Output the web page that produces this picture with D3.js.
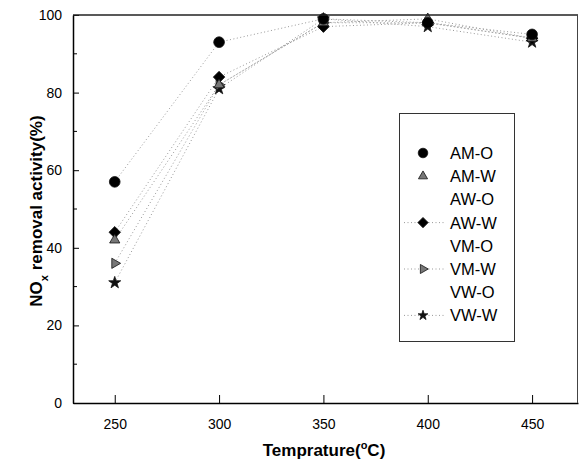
<!DOCTYPE html>
<html>
<head>
<meta charset="utf-8">
<script src="https://cdn.jsdelivr.net/npm/d3@7"></script>
<style>
  body { margin: 0; background: #fff; }
  text { font-family: "Liberation Sans", Arial, sans-serif; }
</style>
</head>
<body>
<div id="chart"></div>
<script>
// data
const temps = [250, 300, 350, 400, 450];
const amO = [57, 93, 99, 98, 95];
const amW = [42, 82, 98, 99, 94];
const awW = [44, 84, 97, 98, 94];
const vmW = [36, 82, 98, 98, 94];
const vwW = [31, 81, 99, 97, 93];
const xTicks = [250, 300, 350, 400, 450];
const yTicks = [0, 20, 40, 60, 80, 100];
const legendNames = ["AM-O", "AM-W", "AW-O", "AW-W", "VM-O", "VM-W", "VW-O", "VW-W"];

const width = 579, height = 466;

const svg = d3.select('#chart')
  .append('svg')
  .attr('width', width)
  .attr('height', height);

const x = d3.scaleLinear().domain([230, 472]).range([73, 578]);
const y = d3.scaleLinear().domain([0, 100]).range([403, 15]);

// series: marker type, fill
const series = [
  { name: "AM-O", values: amO, sym: d3.symbolCircle, size: 90, fill: "#000", rot: 0, legendLine: false },
  { name: "AM-W", values: amW, sym: d3.symbolTriangle, size: 45, fill: "#777", rot: 0, legendLine: false },
  { name: "AW-W", values: awW, sym: d3.symbolSquare, size: 66, fill: "#000", rot: 45, legendLine: true },
  { name: "VM-W", values: vmW, sym: d3.symbolTriangle, size: 45, fill: "#777", rot: 90, legendLine: true },
  { name: "VW-W", values: vwW, sym: d3.symbolStar, size: 45, fill: "#111", rot: 0, legendLine: true }
];

// dotted connecting lines
const line = d3.line()
  .x((d, i) => x(temps[i]))
  .y(d => y(d));

svg.append("g")
  .selectAll("path")
  .data(series)
  .join("path")
    .attr("d", d => line(d.values))
    .attr("fill", "none")
    .attr("stroke", "#999")
    .attr("stroke-width", 1)
    .attr("stroke-dasharray", "1,2.5");

// markers (draw from back to front)
series.slice().reverse().forEach(s => {
  svg.append("g")
    .selectAll("path")
    .data(s.values)
    .join("path")
      .attr("d", d3.symbol().type(s.sym).size(s.size))
      .attr("transform", (d, i) => `translate(${x(temps[i])},${y(d)}) rotate(${s.rot})`)
      .attr("fill", s.fill)
      .attr("stroke", "#111")
      .attr("stroke-width", 0.8);
});

// axes
const xAxis = d3.axisBottom(x).tickValues(xTicks).tickSizeInner(-8).tickSizeOuter(0).tickPadding(16);
const gx = svg.append("g")
  .attr("transform", `translate(0,${y(0)})`)
  .call(xAxis);
gx.select(".domain").attr("stroke", "#000").attr("stroke-width", 1.5);
gx.selectAll(".tick line").attr("stroke", "#000");
gx.selectAll(".tick text").attr("font-size", 14).attr("fill", "#000");

const yAxis = d3.axisLeft(y).tickValues(yTicks).tickSizeInner(-6).tickSizeOuter(0).tickPadding(11);
const gy = svg.append("g")
  .attr("transform", `translate(${x(230)},0)`)
  .call(yAxis);
gy.select(".domain").attr("stroke", "#000").attr("stroke-width", 1.5);
gy.selectAll(".tick line").attr("stroke", "#000");
gy.selectAll(".tick text").attr("font-size", 14).attr("fill", "#000");

// minor y ticks
svg.append("g")
  .selectAll("line")
  .data(d3.range(10, 100, 20))
  .join("line")
    .attr("x1", x(230)).attr("x2", x(230) + 4)
    .attr("y1", d => y(d)).attr("y2", d => y(d))
    .attr("stroke", "#000");

// top and right frame
svg.append("line")
  .attr("x1", x(230)).attr("x2", x(472))
  .attr("y1", y(100)).attr("y2", y(100))
  .attr("stroke", "#222").attr("stroke-width", 1.5);
svg.append("line")
  .attr("x1", x(472) - 0.5).attr("x2", x(472) - 0.5)
  .attr("y1", y(100)).attr("y2", y(0))
  .attr("stroke", "#444").attr("stroke-width", 1);

// axis titles
const xt = svg.append("text")
  .attr("x", 324).attr("y", 456)
  .attr("text-anchor", "middle")
  .attr("font-size", 17).attr("font-weight", "bold");
xt.append("tspan").text("Temprature(");
xt.append("tspan").attr("font-size", 11).attr("dy", -7).text("o");
xt.append("tspan").attr("dy", 7).text("C)");

const yt = svg.append("text")
  .attr("transform", `translate(42,${(y(0) + y(100)) / 2 + 2}) rotate(-90)`)
  .attr("text-anchor", "middle")
  .attr("font-size", 17).attr("font-weight", "bold");
yt.append("tspan").text("NO");
yt.append("tspan").attr("font-size", 11).attr("dy", 6).text("x");
yt.append("tspan").attr("dy", -6).text(" removal activity(%)");

// legend
const leg = svg.append("g");
leg.append("rect")
  .attr("x", 399.5).attr("y", 113.5)
  .attr("width", 115).attr("height", 228)
  .attr("fill", "#fff").attr("stroke", "#333").attr("stroke-width", 1);

legendNames.forEach((name, i) => {
  const ly = 153 + i * 23.2;
  const s = series.find(d => d.name === name);
  if (s) {
    if (s.legendLine) {
      leg.append("line")
        .attr("x1", 404).attr("x2", 444)
        .attr("y1", ly).attr("y2", ly)
        .attr("stroke", "#999").attr("stroke-dasharray", "1,2.5");
    }
    leg.append("path")
      .attr("d", d3.symbol().type(s.sym).size(s.sym === d3.symbolStar ? 30 : s.size * 0.8))
      .attr("transform", `translate(423,${ly}) rotate(${s.rot})`)
      .attr("fill", s.fill)
      .attr("stroke", "#111")
      .attr("stroke-width", 0.8);
  }
  leg.append("text")
    .attr("x", 450).attr("y", ly + 6)
    .attr("font-size", 16.5)
    .text(name);
});
</script>
</body>
</html>
